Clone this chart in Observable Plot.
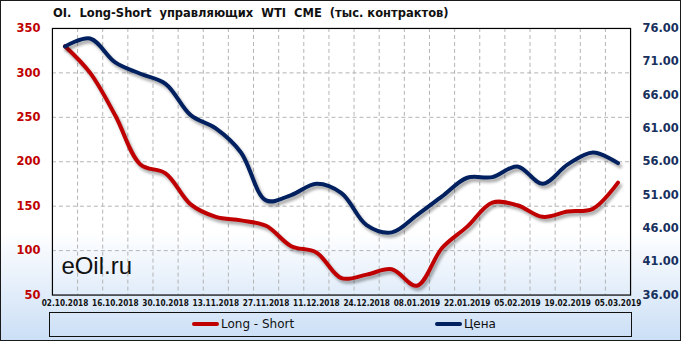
<!DOCTYPE html>
<html>
<head>
<meta charset="utf-8">
<script src="https://cdn.jsdelivr.net/npm/d3@7"></script>
<script src="https://cdn.jsdelivr.net/npm/@observablehq/plot@0.6"></script>
<style>
  html, body { margin: 0; padding: 0; }
  #wrap {
    position: relative; width: 681px; height: 341px; box-sizing: border-box;
    border: 1px solid #1a1a1a;
    background: linear-gradient(to bottom, #ffffff 0%, #ffffff 68%, #cbdff6 100%);
    overflow: hidden;
  }
  #chart { position: absolute; left: -1px; top: -1px; }
  #title {
    position: absolute; left: 52px; top: 5px; white-space: pre;
    font: bold 11.5px "DejaVu Sans", Verdana, sans-serif; color: #111; line-height: 14px;
  }
  #legend {
    position: absolute; left: 48px; top: 311px; width: 583px; height: 25px; box-sizing: border-box;
    border: 1px solid #111;
    font: 12px "DejaVu Sans", sans-serif; color: #111;
  }
  .item { position: absolute; top: 4px; line-height: 14px; white-space: pre; }
  .sw { display: inline-block; width: 27px; height: 4px; border-radius: 2px; vertical-align: middle; margin-right: 2px; position: relative; top: -1px; }
</style>
</head>
<body>
<div id="wrap">
  <div id="chart"></div>
  <div id="title"></div>
  <div id="legend"></div>
</div>
<script>
const titleText = "OI.  Long-Short  управляющих  WTI  CME  (тыс. контрактов)";
const dates = ["02.10.2018","09.10.2018","16.10.2018","23.10.2018","30.10.2018","06.11.2018","13.11.2018","20.11.2018","27.11.2018","04.12.2018","11.12.2018","18.12.2018","24.12.2018","31.12.2018","08.01.2019","15.01.2019","22.01.2019","29.01.2019","05.02.2019","12.02.2019","19.02.2019","26.02.2019","05.03.2019"];
const longShort = [330,300,252,197,187,152,138,134,128,105,98,69,73,79,60.5,103,127,154,151,138,144,147,176.5];
const price = [73.3,74.5,70.9,69.2,67.7,63,61,57.4,50.2,51,52.7,51.3,46.5,45.4,48,50.8,53.6,53.7,55.3,52.7,55.6,57.4,55.8];
const leftTicks = [50,100,150,200,250,300,350];
const rightTicks = [36,41,46,51,56,61,66,71,76];
const seriesNames = ["Long - Short", "Цена"];
const colors = ["#c00000", "#002060"];

// map right-axis price onto left scale
const L0 = leftTicks[0], L1 = leftTicks[leftTicks.length-1];
const R0 = rightTicks[0], R1 = rightTicks[rightTicks.length-1];
const toLeft = p => L0 + (p - R0) * (L1 - L0) / (R1 - R0);
const toRight = v => R0 + (v - L0) * (R1 - R0) / (L1 - L0);

const idx = dates.map((d, i) => i);
const bounds = idx.slice(1).map(i => i - 0.5);
const labelIdx = idx.filter(i => i % 2 === 0);
const gridVals = leftTicks.slice(1, -1);

const dash = {stroke: "#b4b4b4", strokeDasharray: "4,3", strokeWidth: 1, strokeOpacity: 1};

const plot = Plot.plot({
  width: 681, height: 341,
  marginTop: 28, marginBottom: 46, marginLeft: 52, marginRight: 50,
  style: {background: "transparent", overflow: "visible"},
  x: {type: "linear", domain: [-0.5, dates.length - 0.5]},
  y: {domain: [L0, L1]},
  marks: [
    Plot.ruleY(gridVals, dash),
    Plot.ruleX(bounds, dash),
    Plot.frame({stroke: "#000", strokeWidth: 1.2}),
    Plot.axisY(leftTicks, {anchor: "left", tickSize: 0, tickPadding: 12, label: null,
      fill: colors[0], fontWeight: "bold", fontSize: 11.5, fontFamily: "DejaVu Sans"}),
    Plot.axisY(rightTicks.map(toLeft), {anchor: "right", tickSize: 0, tickPadding: 12, label: null,
      tickFormat: v => toRight(v).toFixed(2),
      fill: "#17305e", fontWeight: "bold", fontSize: 11.5, fontFamily: "DejaVu Sans"}),
    Plot.axisX(labelIdx, {anchor: "bottom", tickSize: 0, tickPadding: 5, label: null,
      tickFormat: i => dates[i], fill: "#111", fontWeight: "bold", fontSize: 8.2,
      fontFamily: "DejaVu Sans Condensed, DejaVu Sans"}),
    Plot.text(["eOil.ru"], {frameAnchor: "bottom-left", dx: 9, dy: -21, textAnchor: "start",
      fontSize: 24, fontFamily: "Liberation Sans, Arial", fill: "#111"}),
    Plot.line(idx, {x: i => i, y: i => longShort[i], stroke: colors[0], strokeWidth: 4, curve: "catmull-rom"}),
    Plot.line(idx, {x: i => i, y: i => toLeft(price[i]), stroke: colors[1], strokeWidth: 4, curve: "catmull-rom"})
  ]
});
d3.select(plot).selectAll('g[aria-label="line"] path')
  .style("filter", "drop-shadow(2px 3px 1.5px rgba(0,0,0,0.35))");
document.getElementById("chart").appendChild(plot);
document.getElementById("title").textContent = titleText;

const legend = document.getElementById("legend");
const lefts = [142, 385];
seriesNames.forEach((name, k) => {
  const it = document.createElement("div");
  it.className = "item";
  it.style.left = lefts[k] + "px";
  const sw = document.createElement("span");
  sw.className = "sw";
  sw.style.background = colors[k];
  it.appendChild(sw);
  it.appendChild(document.createTextNode(name));
  legend.appendChild(it);
});
</script>
</body>
</html>
